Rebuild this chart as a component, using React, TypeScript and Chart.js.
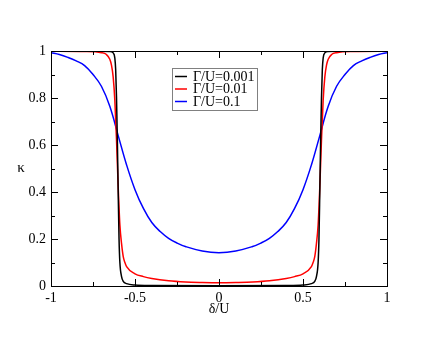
import React, { useEffect, useRef } from "react";
import { Chart, registerables } from "chart.js";

Chart.register(...registerables);

// ---- data ----
const seriesLabels = ["Γ/U=0.001", "Γ/U=0.01", "Γ/U=0.1"];
const seriesColors = ["#000000", "#ff0000", "#0000ff"];

const blackX = [-1, -0.7, -0.65, -0.63, -0.62, -0.615, -0.61, -0.605, -0.6, -0.595, -0.59, -0.58, -0.57, -0.55, -0.5, -0.4, 0, 0.4, 0.5, 0.55, 0.57, 0.58, 0.59, 0.595, 0.6, 0.605, 0.61, 0.615, 0.62, 0.63, 0.65, 0.7, 1];
const blackY = [1, 0.999, 0.998, 0.992, 0.97, 0.92, 0.8, 0.62, 0.4, 0.2, 0.1, 0.04, 0.02, 0.01, 0.004, 0.002, 0.001, 0.002, 0.004, 0.01, 0.02, 0.04, 0.1, 0.2, 0.4, 0.62, 0.8, 0.92, 0.97, 0.992, 0.998, 0.999, 1];

const redX = [-1, -0.8, -0.7, -0.67, -0.65, -0.64, -0.63, -0.62, -0.61, -0.6, -0.59, -0.58, -0.57, -0.56, -0.55, -0.5, -0.45, -0.4, -0.3, -0.2, -0.1, 0, 0.1, 0.2, 0.3, 0.4, 0.45, 0.5, 0.55, 0.56, 0.57, 0.58, 0.59, 0.6, 0.61, 0.62, 0.63, 0.64, 0.65, 0.67, 0.7, 0.8, 1];
const redY = [0.999, 0.998, 0.993, 0.985, 0.965, 0.94, 0.89, 0.79, 0.62, 0.42, 0.26, 0.18, 0.125, 0.1, 0.082, 0.052, 0.04, 0.032, 0.022, 0.017, 0.015, 0.014, 0.015, 0.017, 0.022, 0.032, 0.04, 0.052, 0.082, 0.1, 0.125, 0.18, 0.26, 0.42, 0.62, 0.79, 0.89, 0.94, 0.965, 0.985, 0.993, 0.998, 0.999];

const blueX = [-1, -0.95, -0.9, -0.85, -0.8, -0.75, -0.7, -0.65, -0.6, -0.55, -0.5, -0.45, -0.4, -0.35, -0.3, -0.25, -0.2, -0.1, 0, 0.1, 0.2, 0.25, 0.3, 0.35, 0.4, 0.45, 0.5, 0.55, 0.6, 0.65, 0.7, 0.75, 0.8, 0.85, 0.9, 0.95, 1];
const blueY = [0.993, 0.985, 0.973, 0.958, 0.938, 0.9, 0.85, 0.765, 0.64, 0.515, 0.41, 0.33, 0.27, 0.232, 0.203, 0.183, 0.168, 0.149, 0.142, 0.149, 0.168, 0.183, 0.203, 0.232, 0.27, 0.33, 0.41, 0.515, 0.64, 0.765, 0.85, 0.9, 0.938, 0.958, 0.973, 0.985, 0.993];

const xTickValues = [-1, -0.5, 0, 0.5, 1];
const xTickLabels = ["-1", "-0.5", "0", "0.5", "1"];
const xMinorTicks = [-0.75, -0.25, 0.25, 0.75];
const yTickValues = [0, 0.2, 0.4, 0.6, 0.8, 1];
const yTickLabels = ["0", "0.2", "0.4", "0.6", "0.8", "1"];
const yMinorTicks = [0.1, 0.3, 0.5, 0.7, 0.9];

const xTitle = "δ/U";
const yTitle = "κ";

const FONT = "'Liberation Serif', 'Times New Roman', serif";

function pts(xs: number[], ys: number[]) {
  return xs.map((x, i) => ({ x, y: ys[i] }));
}

function labelFor(values: number[], labels: string[], v: number) {
  for (let i = 0; i < values.length; i++) {
    if (Math.abs(values[i] - v) < 1e-6) return labels[i];
  }
  return "";
}

const framePlugin = {
  id: "frameAndTicks",
  afterDraw(chart: any) {
    const { ctx, chartArea } = chart;
    const { left, right, top, bottom } = chartArea;
    const xs = chart.scales.x;
    const ys = chart.scales.y;
    ctx.save();
    ctx.strokeStyle = "#000";
    ctx.lineWidth = 1;
    ctx.beginPath();
    const drawX = (vals: number[], len: number) => {
      vals.forEach((v) => {
        const px = Math.round(xs.getPixelForValue(v)) + 0.5;
        ctx.moveTo(px, bottom);
        ctx.lineTo(px, bottom - len);
        ctx.moveTo(px, top);
        ctx.lineTo(px, top + len);
      });
    };
    const drawY = (vals: number[], len: number) => {
      vals.forEach((v) => {
        const py = Math.round(ys.getPixelForValue(v)) + 0.5;
        ctx.moveTo(left, py);
        ctx.lineTo(left + len, py);
        ctx.moveTo(right, py);
        ctx.lineTo(right - len, py);
      });
    };
    drawX(xTickValues, 7);
    drawX(xMinorTicks, 4);
    drawY(yTickValues, 7);
    drawY(yMinorTicks, 4);
    ctx.stroke();
    ctx.strokeRect(Math.round(left) + 0.5, Math.round(top) + 0.5, Math.round(right - left), Math.round(bottom - top));

    // y title (upright)
    ctx.fillStyle = "#000";
    ctx.font = `15px ${FONT}`;
    ctx.textAlign = "center";
    ctx.textBaseline = "middle";
    ctx.fillText(yTitle, 21, (top + bottom) / 2);

    // legend
    const bx = 172.5, by = 68.5, bw = 85, bh = 42;
    ctx.fillStyle = "#fff";
    ctx.fillRect(bx, by, bw, bh);
    ctx.strokeStyle = "#808080";
    ctx.lineWidth = 1;
    ctx.strokeRect(bx, by, bw, bh);
    const rows = [76.5, 89, 101.5];
    chart.data.datasets.forEach((ds: any, i: number) => {
      const y = rows[i];
      ctx.strokeStyle = ds.borderColor;
      ctx.lineWidth = 1.5;
      ctx.beginPath();
      ctx.moveTo(175, y);
      ctx.lineTo(187, y);
      ctx.stroke();
      ctx.fillStyle = "#000";
      ctx.font = `14px ${FONT}`;
      ctx.textAlign = "left";
      ctx.textBaseline = "middle";
      ctx.fillText(ds.label, 193, y + 0.5);
    });
    ctx.restore();
  },
};

export default function App() {
  const ref = useRef<HTMLCanvasElement | null>(null);
  useEffect(() => {
    if (!ref.current) return;
    const datasets = [
      pts(blackX, blackY),
      pts(redX, redY),
      pts(blueX, blueY),
    ].map((data, i) => ({
      label: seriesLabels[i],
      data,
      borderColor: seriesColors[i],
      backgroundColor: seriesColors[i],
      borderWidth: 1.5,
      pointRadius: 0,
      fill: false,
      ...(i === 2
        ? { tension: 0.4 }
        : { cubicInterpolationMode: "monotone" as const }),
    }));
    const chart = new Chart(ref.current, {
      type: "line",
      data: { datasets },
      options: {
        animation: false,
        responsive: false,
        devicePixelRatio: 1,
        layout: { padding: { left: 0, top: 51, right: 49, bottom: 0 } },
        plugins: { legend: { display: false }, tooltip: { enabled: false } },
        scales: {
          x: {
            type: "linear",
            min: -1,
            max: 1,
            grid: { display: false, drawTicks: false },
            border: { display: false },
            ticks: {
              stepSize: 0.5,
              padding: 4,
              color: "#000",
              font: { family: FONT, size: 14 },
              maxRotation: 0,
              callback: (v: any) => labelFor(xTickValues, xTickLabels, Number(v)),
            },
            title: {
              display: true,
              text: xTitle,
              color: "#000",
              font: { family: FONT, size: 14 },
              padding: { top: 0, bottom: 19 },
            },
            afterFit: (s: any) => {
              s.height = 51;
            },
          },
          y: {
            type: "linear",
            min: 0,
            max: 1,
            grid: { display: false, drawTicks: false },
            border: { display: false },
            ticks: {
              stepSize: 0.2,
              padding: 5,
              color: "#000",
              font: { family: FONT, size: 14 },
              callback: (v: any) => labelFor(yTickValues, yTickLabels, Number(v)),
            },
            afterFit: (s: any) => {
              s.width = 51;
            },
          },
        },
      },
      plugins: [framePlugin],
    });
    return () => chart.destroy();
  }, []);
  return (
    <div style={{ position: "absolute", left: 0, top: 0, width: 436, height: 337, background: "#fff" }}>
      <canvas ref={ref} width={436} height={337} style={{ width: 436, height: 337 }} />
    </div>
  );
}
